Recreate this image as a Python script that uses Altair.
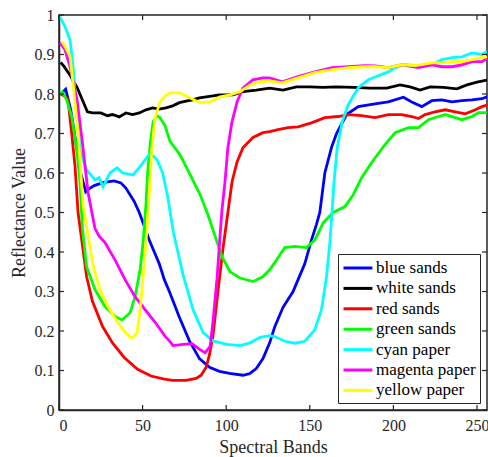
import altair as alt
import pandas as pd

series_names = ["blue sands", "white sands", "red sands", "green sands",
                "cyan paper", "magenta paper", "yellow paper"]
series_colors = ["#0000FF", "#000000", "#FF0000", "#00FF00",
                 "#00FFFF", "#FF00FF", "#FFFF00"]

blue_x = [1, 4, 7, 10, 13, 16, 18, 21, 27, 33, 37, 40, 45, 48, 51, 54, 57, 60, 63, 66, 72, 78, 84, 90, 96, 102, 110,
          114, 118, 122, 126, 129, 134, 140, 143, 147, 151, 154, 156, 159, 163, 166, 172, 179, 189, 197, 206, 211, 217,
          223, 229, 235, 241, 247, 253, 256]
blue_y = [0.80, 0.812, 0.76, 0.68, 0.60, 0.552, 0.56, 0.568, 0.576, 0.58, 0.575, 0.562, 0.528, 0.50, 0.466, 0.43,
          0.40, 0.37, 0.33, 0.30, 0.235, 0.175, 0.13, 0.108, 0.098, 0.093, 0.088, 0.092, 0.105, 0.13, 0.17, 0.21, 0.26,
          0.30, 0.33, 0.37, 0.43, 0.47, 0.50, 0.60, 0.665, 0.70, 0.748, 0.768, 0.775, 0.78, 0.792, 0.78, 0.768, 0.783,
          0.785, 0.78, 0.783, 0.785, 0.788, 0.793]

white_x = [1, 3, 7, 11, 14, 17, 20, 25, 29, 32, 36, 40, 44, 48, 52, 56, 60, 64, 68, 72, 76, 80, 84, 88, 92, 96, 100,
           104, 110, 118, 126, 134, 142, 150, 158, 166, 176, 186, 196, 204, 210, 216, 222, 230, 238, 244, 250, 256]
white_y = [0.88, 0.87, 0.845, 0.815, 0.785, 0.755, 0.752, 0.752, 0.745, 0.748, 0.742, 0.752, 0.748, 0.752, 0.76,
           0.765, 0.762, 0.765, 0.77, 0.778, 0.782, 0.785, 0.79, 0.793, 0.795, 0.798, 0.798, 0.798, 0.806, 0.81, 0.815,
           0.81, 0.818, 0.818, 0.817, 0.818, 0.817, 0.815, 0.815, 0.823, 0.818, 0.81, 0.818, 0.817, 0.813, 0.823, 0.83,
           0.835]

red_x = [1, 4, 5.4, 7.6, 9.6, 11.4, 13.8, 16.5, 20, 26, 32, 39, 47, 55, 63, 68, 76, 82, 85, 88, 90, 92, 95, 98, 101,
         103.5, 106.5, 110, 116, 122, 126, 131, 137, 143, 151, 159, 167, 173, 181, 189, 197, 205, 211, 215, 219, 225,
         231, 237, 243, 249, 253, 256]
red_y = [0.80, 0.793, 0.785, 0.70, 0.616, 0.50, 0.424, 0.338, 0.275, 0.212, 0.17, 0.133, 0.103, 0.086, 0.078, 0.075,
         0.075, 0.08, 0.088, 0.108, 0.14, 0.185, 0.297, 0.406, 0.50, 0.578, 0.628, 0.664, 0.69, 0.702, 0.705, 0.71,
         0.715, 0.717, 0.727, 0.74, 0.743, 0.748, 0.745, 0.74, 0.748, 0.748, 0.743, 0.738, 0.748, 0.755, 0.76, 0.755,
         0.75, 0.76, 0.768, 0.772]

green_x = [1, 2, 4.6, 7.6, 10.6, 12.6, 14, 16.5, 21.5, 27.5, 33.5, 37.7, 42.5, 45.5, 48.5, 50.3, 52, 53, 54.5, 56.3,
           58.6, 60.4, 63.4, 66.4, 72.4, 78.4, 84.4, 88.6, 93.4, 97.5, 102.3, 108.3, 116, 122, 126, 129, 135, 141, 148,
           153, 158, 164, 171, 176, 181, 186, 189, 195, 201, 209, 215, 221, 227, 231, 237, 241, 247, 251, 256]
green_y = [0.80, 0.805, 0.785, 0.743, 0.66, 0.575, 0.46, 0.363, 0.305, 0.262, 0.237, 0.228, 0.246, 0.287, 0.355,
           0.424, 0.52, 0.60, 0.672, 0.73, 0.745, 0.74, 0.72, 0.68, 0.646, 0.596, 0.545, 0.50, 0.44, 0.388, 0.35,
           0.334, 0.325, 0.338, 0.355, 0.373, 0.411, 0.414, 0.411, 0.43, 0.474, 0.50, 0.515, 0.545, 0.588, 0.62, 0.638,
           0.672, 0.702, 0.715, 0.715, 0.735, 0.743, 0.748, 0.74, 0.735, 0.743, 0.753, 0.753]

cyan_x = [0.6, 3.6, 6.6, 8.4, 10.8, 12.6, 16.5, 21.5, 24, 26.3, 30.5, 34.7, 38.3, 44.3, 48.5, 54.5, 58.6, 62, 65,
          68.4, 74.4, 80.2, 86.2, 92.2, 100.5, 108.3, 114.3, 120.3, 126, 129, 135, 141, 147, 153, 157, 160, 162, 163.4,
          164.5, 166.4, 169.4, 173, 179, 185, 189, 197, 201, 207, 215, 223, 229, 235, 241, 247, 253, 256]
cyan_y = [0.995, 0.97, 0.937, 0.869, 0.743, 0.659, 0.608, 0.583, 0.588, 0.565, 0.60, 0.613, 0.60, 0.595, 0.616,
          0.651, 0.634, 0.60, 0.54, 0.45, 0.339, 0.254, 0.196, 0.175, 0.166, 0.163, 0.17, 0.184, 0.188, 0.186, 0.174,
          0.169, 0.174, 0.203, 0.254, 0.337, 0.424, 0.507, 0.578, 0.664, 0.73, 0.773, 0.816, 0.836, 0.843, 0.856,
          0.867, 0.874, 0.872, 0.874, 0.887, 0.892, 0.894, 0.904, 0.90, 0.908]

magenta_x = [0.6, 3.6, 6.6, 10.8, 13.8, 17.4, 21.5, 24, 27.5, 33.5, 39.5, 45.5, 51.5, 57.5, 63.4, 66, 68.2, 74.2,
             79.6, 84.4, 87.4, 90.4, 92.2, 94.6, 96.3, 97.5, 99.3, 101, 103.5, 106.5, 110, 116, 122, 126, 133.5, 143,
             153, 163.4, 173, 183, 189, 197, 205, 215, 223, 229, 235, 241, 247, 253, 256]
magenta_y = [0.93, 0.912, 0.869, 0.785, 0.684, 0.55, 0.46, 0.44, 0.424, 0.38, 0.33, 0.287, 0.254, 0.222, 0.187,
             0.175, 0.163, 0.166, 0.168, 0.153, 0.145, 0.161, 0.228, 0.337, 0.44, 0.507, 0.578, 0.664, 0.73, 0.78,
             0.815, 0.836, 0.841, 0.841, 0.831, 0.844, 0.856, 0.867, 0.869, 0.872, 0.871, 0.867, 0.874, 0.867, 0.874,
             0.869, 0.869, 0.874, 0.882, 0.882, 0.89]

yellow_x = [1.8, 3.6, 6.6, 8.4, 11.4, 14.4, 17.4, 20.5, 24.5, 29.3, 34.7, 38.3, 41, 43.7, 46.7, 48.5, 50.3, 52, 53.3,
            55.6, 57.5, 60.4, 63.4, 66.4, 72.4, 78.4, 84.4, 90.4, 96.3, 102.3, 108.3, 114.3, 120.3, 126.3, 133.5, 143,
            153, 163.4, 173, 183, 189, 197, 205, 213, 223, 229, 235, 241, 247, 253, 256]
yellow_y = [0.932, 0.92, 0.895, 0.828, 0.70, 0.52, 0.44, 0.363, 0.305, 0.262, 0.224, 0.204, 0.19, 0.182, 0.196,
            0.254, 0.337, 0.424, 0.50, 0.664, 0.74, 0.78, 0.795, 0.803, 0.803, 0.79, 0.778, 0.78, 0.793, 0.798, 0.806,
            0.823, 0.831, 0.833, 0.828, 0.841, 0.854, 0.862, 0.867, 0.869, 0.869, 0.867, 0.874, 0.872, 0.879, 0.879,
            0.882, 0.882, 0.887, 0.892, 0.894]

x_ticks = [0, 50, 100, 150, 200, 250]
y_ticks = [0, 0.1, 0.2, 0.3, 0.4, 0.5, 0.6, 0.7, 0.8, 0.9, 1]

all_x = [blue_x, white_x, red_x, green_x, cyan_x, magenta_x, yellow_x]
all_y = [blue_y, white_y, red_y, green_y, cyan_y, magenta_y, yellow_y]

rows = []
for i, (name, xs, ys) in enumerate(zip(series_names, all_x, all_y)):
    for xv, yv in zip(xs, ys):
        rows.append({"band": xv, "value": yv, "series": name, "k": i})
df = pd.DataFrame(rows)

W, H = 428, 395
FONT = "Liberation Serif"
DARK = "#262626"

xscale = alt.Scale(domain=[0, 256], nice=False, zero=False)
yscale = alt.Scale(domain=[0, 1], nice=False)

x_axis = alt.Axis(title="Spectral Bands", values=x_ticks, ticks=False, grid=False,
                  labelPadding=7, titlePadding=5, format="d", labelOverlap=False,
                  labelFont=FONT, titleFont=FONT, labelFontSize=16, titleFontSize=18)
y_axis = alt.Axis(title="Reflectance Value", values=y_ticks, ticks=False, grid=False,
                  labelPadding=5, titlePadding=6, format="~g", labelOverlap=False,
                  labelFont=FONT, titleFont=FONT, labelFontSize=16, titleFontSize=18)

lines = alt.Chart(df).mark_line(strokeWidth=2.8, clip=True).encode(
    x=alt.X("band:Q", scale=xscale, axis=x_axis),
    y=alt.Y("value:Q", scale=yscale, axis=y_axis),
    color=alt.Color("series:N", scale=alt.Scale(domain=series_names, range=series_colors),
                    sort=series_names,
                    legend=alt.Legend(title=None, orient="none", legendX=279, legendY=239,
                                      symbolType="M-1,0L2.4,0", symbolSize=289, symbolStrokeWidth=3,
                                      labelOffset=14, rowPadding=2.4, padding=4,
                                      labelFontSize=17, labelFont=FONT, labelColor="#000000",
                                      strokeColor=DARK, fillColor="#FFFFFF", labelLimit=200)),
    detail="k:O",
    order=alt.Order("band:Q"),
)

xt = pd.DataFrame({"t": x_ticks})
yt = pd.DataFrame({"t": y_ticks})
tl = 5
xt_bottom = alt.Chart(xt).mark_rule(color=DARK, strokeWidth=1.2).encode(
    x=alt.X("t:Q", scale=xscale, axis=x_axis), y=alt.value(H), y2=alt.value(H - tl))
xt_top = alt.Chart(xt).mark_rule(color=DARK, strokeWidth=1.2).encode(
    x=alt.X("t:Q", scale=xscale, axis=x_axis), y=alt.value(0), y2=alt.value(tl))
yt_left = alt.Chart(yt).mark_rule(color=DARK, strokeWidth=1.2).encode(
    y=alt.Y("t:Q", scale=yscale, axis=y_axis), x=alt.value(0), x2=alt.value(tl))
yt_right = alt.Chart(yt).mark_rule(color=DARK, strokeWidth=1.2).encode(
    y=alt.Y("t:Q", scale=yscale, axis=y_axis), x=alt.value(W), x2=alt.value(W - tl))

chart = alt.layer(lines, xt_bottom, xt_top, yt_left, yt_right).properties(
    width=W, height=H,
    autosize=alt.AutoSizeParams(type="none"),
    padding={"left": 59, "top": 15, "right": 1, "bottom": 47},
    background="#FFFFFF",
).configure(
    font=FONT
).configure_view(
    stroke=DARK, strokeWidth=1.5
).configure_axis(
    labelFont=FONT, titleFont=FONT, labelFontSize=16, titleFontSize=18,
    labelColor=DARK, titleColor=DARK, titleFontWeight="normal",
    domainColor=DARK, domainWidth=1.5,
).configure_legend(
    labelFont=FONT
)

chart.save("out.html", embed_options={"renderer": "svg", "actions": False})
